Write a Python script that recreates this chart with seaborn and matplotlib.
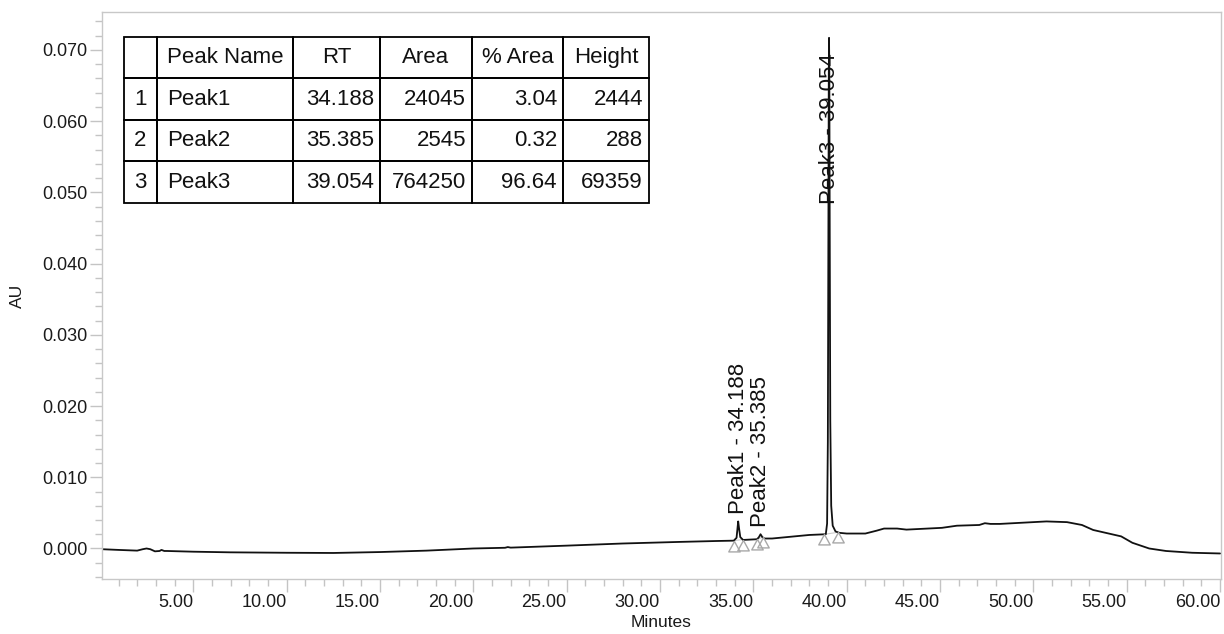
import numpy as np
import pandas as pd
import matplotlib
matplotlib.use("Agg")
import matplotlib.pyplot as plt
import seaborn as sns
from matplotlib.path import Path
from matplotlib.ticker import MultipleLocator, FormatStrFormatter

# ---------------- data ----------------
time_min = [0.1, 1.0, 2.0, 2.3, 2.5, 2.7, 2.95, 3.2, 3.3, 3.45, 3.6, 5.0, 7.0,
            10.0, 12.5, 15.0, 17.5, 20.0, 21.7, 21.85, 22.0, 25.0, 28.0, 31.0,
            33.0, 33.95, 34.1, 34.15, 34.188, 34.23, 34.3, 34.45, 35.2, 35.3,
            35.385, 35.48, 35.6, 36.0, 38.0, 38.88, 38.95, 38.99, 39.02, 39.04,
            39.054, 39.07, 39.09, 39.12, 39.17, 39.25, 39.4, 39.6, 40.0, 41.0,
            41.6, 42.0, 42.7, 43.2, 45.1, 45.9, 47.1, 47.4, 47.7, 48.2, 50.7,
            51.8, 52.6, 53.2, 54.2, 54.7, 55.3, 56.2, 57.1, 58.5, 60.0]
absorbance = [-0.0001, -0.0002, -0.0003, -0.0001, 0.0000, -0.0001, -0.0004,
              -0.00035, -0.0002, -0.00035, -0.00035, -0.00045, -0.00054, -0.0006,
              -0.00063, -0.0005, -0.0003, 0.0000, 0.0001, 0.0002, 0.00012,
              0.0004, 0.0007, 0.00092, 0.00105, 0.0011, 0.0015, 0.0028, 0.0038,
              0.0029, 0.0016, 0.0012, 0.0013, 0.0016, 0.0020, 0.0016, 0.0014,
              0.0014, 0.0019, 0.0020, 0.0035, 0.015, 0.045, 0.066, 0.0717,
              0.066, 0.045, 0.018, 0.006, 0.0032, 0.0024, 0.0022, 0.0021, 0.0021,
              0.0025, 0.0028, 0.0028, 0.00265, 0.0029, 0.0032, 0.0033, 0.00355,
              0.00345, 0.00345, 0.0038, 0.0037, 0.0033, 0.0026, 0.0020, 0.0017,
              0.0008, 0.0000, -0.00035, -0.0006, -0.0007]

peak_names = ["Peak1", "Peak2", "Peak3"]
peak_rt = [34.188, 35.385, 39.054]
peak_area = [24045, 2545, 764250]
peak_pct_area = [3.04, 0.32, 96.64]
peak_height = [2444, 288, 69359]
peak_start = [33.95, 35.19, 38.80]
peak_end = [34.43, 35.50, 39.53]

x_ticks = [5, 10, 15, 20, 25, 30, 35, 40, 45, 50, 55, 60]
col_labels = ["", "Peak Name", "RT", "Area", "% Area", "Height"]

# ---------------- style ----------------
sns.set_theme(style="ticks")
plt.rcParams['font.family'] = ['Liberation Sans', 'DejaVu Sans']

fig = plt.figure(figsize=(12.24, 6.34), dpi=100)
ax = fig.add_axes([0.0831, 0.0868, 0.9142, 0.8938])

df = pd.DataFrame({"Minutes": time_min, "AU": absorbance})
sns.lineplot(data=df, x="Minutes", y="AU", ax=ax, color="#111111",
             linewidth=1.3, estimator=None, sort=False)

# baseline segments + triangle markers
tri = Path([(0, 0), (-0.55, -1), (0.55, -1), (0, 0)],
           [Path.MOVETO, Path.LINETO, Path.LINETO, Path.CLOSEPOLY])
for s, e in zip(peak_start, peak_end):
    ys = np.interp(s, time_min, absorbance)
    ye = np.interp(e, time_min, absorbance)
    ax.plot([s, e], [ys, ye], color="#cccccc", lw=0.8, zorder=1)
    ax.plot([s, e], [ys, ye], ls="none", marker=tri, markersize=15,
            mfc="none", mec="#a8a8a8", mew=1.0, zorder=3)

# peak labels
for name, rt in zip(peak_names, peak_rt):
    top = np.interp(rt, time_min, absorbance)
    ax.annotate(f"{name} - {rt:.3f}", xy=(rt, min(top, 0.0474)),
                xytext=(0, 5), textcoords="offset points", rotation=90,
                ha="center", va="bottom", fontsize=16, color="#111111")

# axes
ax.set_xlim(0.1, 60.03)
ax.set_ylim(-0.00428, 0.07529)
ax.set_xticks(x_ticks)
ax.set_xticklabels([f"{v:.2f}" for v in x_ticks])
plt.setp(ax.get_xticklabels(), ha="right")
ax.xaxis.set_minor_locator(MultipleLocator(1))
ax.yaxis.set_major_locator(MultipleLocator(0.01))
ax.yaxis.set_minor_locator(MultipleLocator(0.002))
ax.yaxis.set_major_formatter(FormatStrFormatter("%.3f"))
ax.tick_params(which="major", length=9, width=1, color="#c4c4c4",
               labelsize=13, labelcolor="#1a1a1a", pad=1.5)
ax.tick_params(which="minor", length=5, width=1, color="#c4c4c4")
for sp in ax.spines.values():
    sp.set_color("#c8c8c8")
    sp.set_linewidth(1.0)
ax.set_xlabel("Minutes", fontsize=12.5, color="#1a1a1a", labelpad=3)
ax.set_ylabel("AU", fontsize=12.5, color="#1a1a1a", labelpad=12)

# results table
cell_text = [[str(i + 1), n, f"{rt:.3f}", f"{a}", f"{p:.2f}", f"{h}"]
             for i, (n, rt, a, p, h) in enumerate(zip(peak_names, peak_rt, peak_area,
                                                     peak_pct_area, peak_height))]
col_px = [33, 136, 87, 92, 91, 86]
tot = sum(col_px)
tbl = ax.table(cellText=cell_text, colLabels=col_labels,
               colWidths=[c / tot for c in col_px],
               cellLoc="right", colLoc="center",
               bbox=[0.0199, 0.6635, tot / 1119.0, 0.293])
tbl.auto_set_font_size(False)
tbl.set_fontsize(16)
for (r, c), cell in tbl.get_celld().items():
    cell.set_edgecolor("black")
    cell.set_linewidth(1.3)
    cell.set_facecolor("none")
    cell.PAD = 6.0 / col_px[c]
    txt = cell.get_text()
    if c == 0:
        txt.set_ha("center")
    elif c == 1:
        txt.set_ha("left")
        cell.PAD = 10.0 / col_px[c]
    elif r == 0:
        txt.set_ha("center")
    txt.set_color("#111111")

fig.savefig("out.png", dpi=100)
